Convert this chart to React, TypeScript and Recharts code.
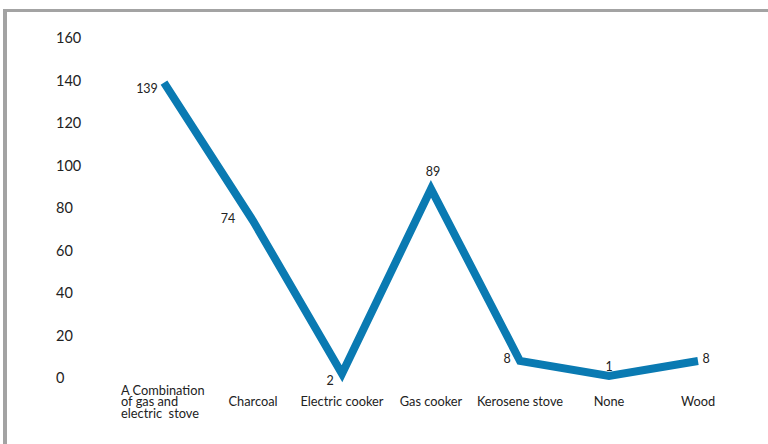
import React from "react";
import { LineChart, Line, XAxis, YAxis, LabelList } from "recharts";

const categories = [
  "A Combination of gas and electric  stove",
  "Charcoal",
  "Electric cooker",
  "Gas cooker",
  "Kerosene stove",
  "None",
  "Wood",
];
const counts = [139, 74, 2, 89, 8, 1, 8];
const yTicks = [0, 20, 40, 60, 80, 100, 120, 140, 160];

const data = categories.map((name, i) => ({ name, count: counts[i] }));

const FONT = "Lato, 'Noto Sans', sans-serif";
const TEXT = "#222";

const YTick = (props: any) => {
  const { y, payload } = props;
  return (
    <text x={56} y={y} dy="0.36em" textAnchor="start" fontFamily={FONT} fontSize={14.5} fill={TEXT}>
      {payload.value}
    </text>
  );
};

const XTick = (props: any) => {
  const { x, y, payload, index } = props;
  if (index === 0) {
    const lines = ["A Combination", "of gas and", "electric  stove"];
    return (
      <g>
        {lines.map((l, k) => (
          <text
            key={k}
            x={x - 43}
            y={y + 8.5 + k * 11.7}
            textAnchor="start"
            fontFamily={FONT}
            fontSize={12.8}
            fill={TEXT}
            style={{ whiteSpace: "pre" }}
          >
            {l}
          </text>
        ))}
      </g>
    );
  }
  return (
    <text x={x} y={y + 19.5} textAnchor="middle" fontFamily={FONT} fontSize={12.8} fill={TEXT}>
      {payload.value}
    </text>
  );
};

const labelOffsets: [number, number][] = [
  [-17, 6],
  [-25, -2],
  [-12, 7],
  [2, -17],
  [-13, -3],
  [0, -9],
  [8, -3],
];

const DataLabel = (props: any) => {
  const { x, y, value, index } = props;
  const off = labelOffsets[index] || [0, -10];
  return (
    <text
      x={x + off[0]}
      y={y + off[1]}
      dy="0.36em"
      textAnchor="middle"
      fontFamily={FONT}
      fontSize={12.5}
      fill={TEXT}
    >
      {value}
    </text>
  );
};

export default function App() {
  return (
    <div
      style={{
        position: "fixed",
        left: 0,
        top: 0,
        width: 768,
        height: 444,
        overflow: "hidden",
        background: "#fff",
      }}
    >
      <div
        style={{
          position: "absolute",
          left: 3,
          top: 9,
          width: 900,
          height: 600,
          borderTop: "3px solid #a3a3a3",
          borderLeft: "4px solid #a3a3a3",
        }}
      />
      <div style={{ position: "absolute", left: 0, top: 0 }}>
        <LineChart
          width={768}
          height={444}
          data={data}
          margin={{ top: 38, right: 20, bottom: 16, left: 14 }}
        >
          <XAxis
            dataKey="name"
            axisLine={false}
            tickLine={false}
            interval={0}
            height={50}
            padding={{ left: 50, right: 50 }}
            tick={<XTick />}
          />
          <YAxis
            domain={[0, 160]}
            ticks={yTicks}
            axisLine={false}
            tickLine={false}
            width={100}
            tick={<YTick />}
          />
          <Line
            type="linear"
            dataKey="count"
            stroke="#0a7ab2"
            strokeWidth={8}
            dot={false}
            activeDot={false}
            isAnimationActive={false}
          >
            <LabelList dataKey="count" content={<DataLabel />} />
          </Line>
        </LineChart>
      </div>
    </div>
  );
}
